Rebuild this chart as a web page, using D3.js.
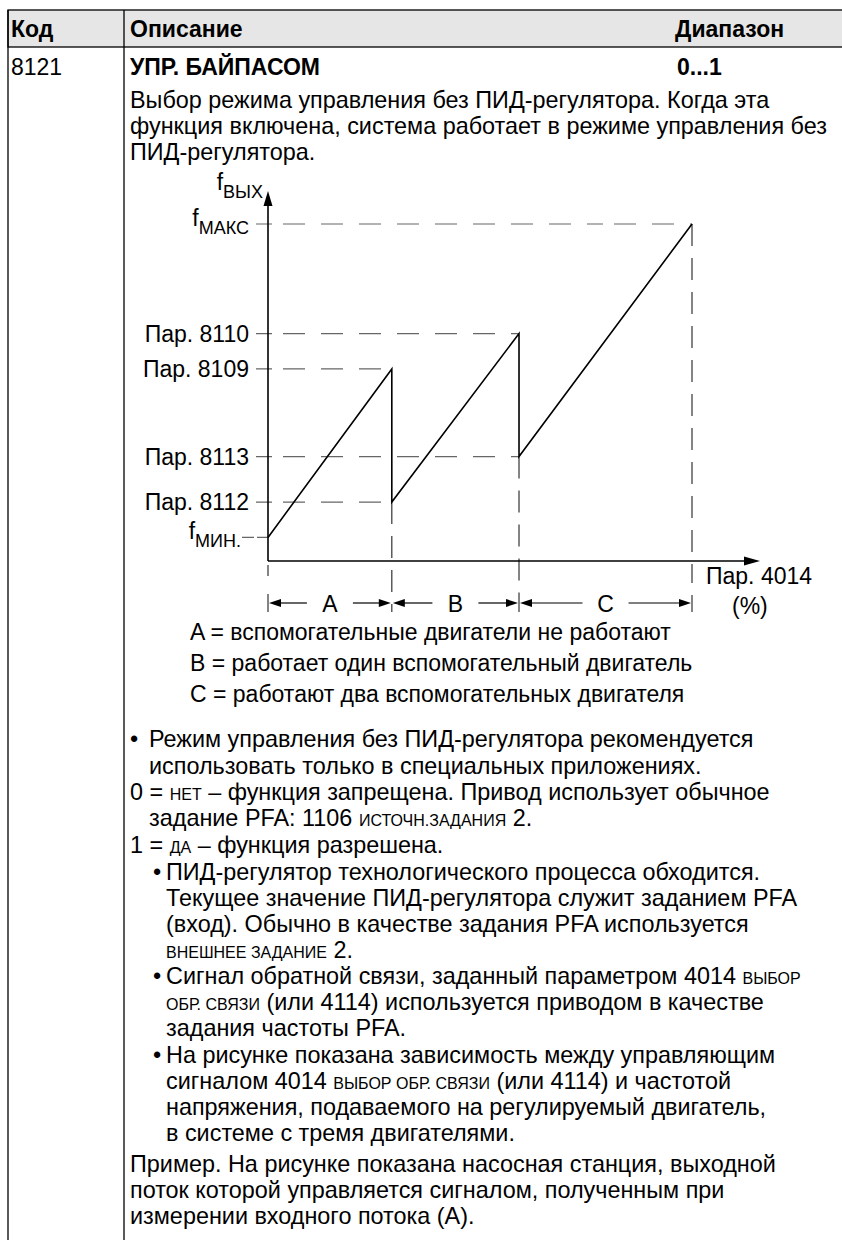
<!DOCTYPE html>
<html>
<head>
<meta charset="utf-8">
<script src="https://cdn.jsdelivr.net/npm/d3@7"></script>
<style>
  body { margin: 0; background: #fff; }
  svg text { font-family: "Liberation Sans", Arial, sans-serif; fill: #000; }
</style>
</head>
<body>
<div id="chart"></div>
<script>
//Datos del gráfico (valores en % de fMAX y % de Пар. 4014)
const levelNames = ['fМИН.', 'Пар. 8112', 'Пар. 8113', 'Пар. 8109', 'Пар. 8110', 'fМАКС'];
const levelValues = [7, 17.5, 31, 57, 67.5, 100];
const stageNames = ['A', 'B', 'C'];
const stageBounds = [0, 29.2, 59.2, 100];
const curveX = [0, 29.2, 29.2, 59.2, 59.2, 100];
const curveY = [7, 57, 17.5, 67.5, 31, 100];
const legendLines = [
    'A = вспомогательные двигатели не работают',
    'B = работает один вспомогательный двигатель',
    'C = работают два вспомогательных двигателя'
];

//Textos de la tabla
const headCols = ['Код', 'Описание', 'Диапазон'];
const introLines = [
    'Выбор режима управления без ПИД-регулятора. Когда эта',
    'функция включена, система работает в режиме управления без',
    'ПИД-регулятора.'
];
// [indent, texto] ; los tramos entre | van en versalitas
const bodyLines = [
    [130, '•'], [149, 'Режим управления без ПИД-регулятора рекомендуется'],
    [149, 'использовать только в специальных приложениях.'],
    [130, '0 = |НЕТ| – функция запрещена. Привод использует обычное'],
    [149, 'задание PFA: 1106 |ИСТОЧН.ЗАДАНИЯ| 2.'],
    [130, '1 = |ДА| – функция разрешена.'],
    [153, '•'], [166, 'ПИД-регулятор технологического процесса обходится.'],
    [166, 'Текущее значение ПИД-регулятора служит заданием PFA'],
    [166, '(вход). Обычно в качестве задания PFA используется'],
    [166, '|ВНЕШНЕЕ ЗАДАНИЕ| 2.'],
    [153, '•'], [166, 'Сигнал обратной связи, заданный параметром 4014 |ВЫБОР|'],
    [166, '|ОБР. СВЯЗИ| (или 4114) используется приводом в качестве'],
    [166, 'задания частоты PFA.'],
    [153, '•'], [166, 'На рисунке показана зависимость между управляющим'],
    [166, 'сигналом 4014 |ВЫБОР ОБР. СВЯЗИ| (или 4114) и частотой'],
    [166, 'напряжения, подаваемого на регулируемый двигатель,'],
    [166, 'в системе с тремя двигателями.'],
    [130, 'Пример. На рисунке показана насосная станция, выходной'],
    [130, 'поток которой управляется сигналом, полученным при'],
    [130, 'измерении входного потока (A).']
];
const bodyBaselines = [747, 747, 774, 800, 826, 853, 880, 880, 906, 932, 958, 984, 984, 1010, 1036, 1063, 1063, 1089, 1115, 1141, 1172, 1198, 1224];

const W = 842, H = 1240;
const FS = 23.4, FS_SC = 16, FS_SUB = 18, FS_B = 23, FS_CH = 23;

let svg = d3.select('#chart').append('svg')
    .attr('width', W)
    .attr('height', H);

//////Tabla
svg.append('rect')
    .attr('x', 8).attr('y', 10)
    .attr('width', W - 8 + 2).attr('height', 37)
    .attr('fill', '#e6e6e6')
    .attr('stroke', '#000')
    .attr('stroke-width', 1.3);

svg.append('line').attr('x1', 8).attr('x2', 8).attr('y1', 10).attr('y2', H)
    .attr('stroke', '#000').attr('stroke-width', 1.3);
svg.append('line').attr('x1', 124).attr('x2', 124).attr('y1', 10).attr('y2', H)
    .attr('stroke', '#000').attr('stroke-width', 1.3);

let headX = [11, 130, 675];
svg.selectAll('.head')
    .data(headCols)
    .enter()
    .append('text')
    .attr('x', (d, i) => headX[i])
    .attr('y', 37)
    .attr('font-size', FS_B)
    .attr('font-weight', 'bold')
    .text(d => d);

svg.append('text').attr('x', 11).attr('y', 75).attr('font-size', FS_CH).text('8121');
svg.append('text').attr('x', 130).attr('y', 75).attr('font-size', FS_B).attr('font-weight', 'bold').text('УПР. БАЙПАСОМ');
svg.append('text').attr('x', 677).attr('y', 75).attr('font-size', FS_B).attr('font-weight', 'bold').text('0...1');

svg.selectAll('.intro')
    .data(introLines)
    .enter()
    .append('text')
    .attr('x', 130)
    .attr('y', (d, i) => 108 + i * 26)
    .attr('font-size', FS)
    .text(d => d);

//Texto con versalitas
bodyLines.forEach(function(l, i) {
    let t = svg.append('text')
        .attr('x', l[0])
        .attr('y', bodyBaselines[i])
        .attr('font-size', FS)
        .attr('xml:space', 'preserve');
    l[1].split('|').forEach(function(s, j) {
        if (s === '') return;
        t.append('tspan')
            .attr('font-size', j % 2 ? FS_SC : FS)
            .text(s);
    });
});

//////Gráfico
let x = d3.scaleLinear().domain([0, 100]).range([268, 692]);
let y = d3.scaleLinear().domain([0, 100]).range([561, 224]);

let g = svg.append('g');
const DASH_COLOR = '#666';

//Líneas discontinuas horizontales
levelValues.forEach(function(v, i) {
    if (i === 0) {
        g.append('line')
            .attr('x1', x(0) - 26).attr('x2', x(0))
            .attr('y1', y(v)).attr('y2', y(v))
            .attr('stroke', DASH_COLOR)
            .attr('stroke-width', 1.2)
            .attr('stroke-dasharray', '12,3,12');
        return;
    }
    let xEnd = d3.max(curveX.filter((cx, k) => curveY[k] === v));
    g.append('line')
        .attr('x1', x(0) - 12).attr('x2', x(xEnd))
        .attr('y1', y(v)).attr('y2', y(v))
        .attr('stroke', DASH_COLOR)
        .attr('stroke-width', 1.2)
        .attr('stroke-dasharray', '16,11,22,16,22,16,22,16,22,16,22,16,22,16,22,16,22,16');
});

//Líneas discontinuas verticales
stageBounds.forEach(function(b, i) {
    let top;
    if (i === 0) top = y(0) + 4;
    else if (i === stageBounds.length - 1) top = y(100);
    else top = y(d3.min(curveY.filter((cy, k) => curveX[k] === b)));
    let bottom = i === stageBounds.length - 1 ? 583 : 612;
    g.append('line')
        .attr('x1', x(b)).attr('x2', x(b))
        .attr('y1', top).attr('y2', bottom)
        .attr('stroke', '#333')
        .attr('stroke-width', 1.2)
        .attr('stroke-dasharray', i === 0 ? '11,18,20' : '22,12');
});

//Ejes
g.append('line')
    .attr('x1', x(0)).attr('x2', x(0))
    .attr('y1', y(0)).attr('y2', 200)
    .attr('stroke', '#000').attr('stroke-width', 1.6);
g.append('path')
    .attr('d', d3.line()([[x(0) - 4.5, 206], [x(0), 191], [x(0) + 4.5, 206]]) + 'Z')
    .attr('fill', '#000');
g.append('line')
    .attr('x1', x(0)).attr('x2', 748)
    .attr('y1', y(0)).attr('y2', y(0))
    .attr('stroke', '#000').attr('stroke-width', 1.6);
g.append('path')
    .attr('d', d3.line()([[744, y(0) - 4.5], [760, y(0)], [744, y(0) + 4.5]]) + 'Z')
    .attr('fill', '#000');

//Curva
g.append('path')
    .datum(curveX.map((cx, k) => [cx, curveY[k]]))
    .attr('fill', 'none')
    .attr('stroke', '#000')
    .attr('stroke-width', 1.6)
    .attr('stroke-linejoin', 'miter')
    .attr('d', d3.line().x(d => x(d[0])).y(d => y(d[1])));

//Etiquetas del eje Y
levelNames.forEach(function(n, i) {
    let t = g.append('text')
        .attr('x', i === 0 ? x(0) - 27 : x(0) - 19)
        .attr('y', y(levelValues[i]) + 8)
        .attr('font-size', FS_CH)
        .attr('text-anchor', 'end');
    if (n[0] === 'f') {
        t.attr('y', y(levelValues[i]) + 2);
        t.append('tspan').text('f');
        t.append('tspan').attr('font-size', FS_SUB).attr('dy', 8).text(n.slice(1));
    } else {
        t.text(n);
    }
});

//Título eje Y
let ty = g.append('text').attr('x', x(0) - 5).attr('y', 190).attr('font-size', FS_CH).attr('text-anchor', 'end');
ty.append('tspan').text('f');
ty.append('tspan').attr('font-size', FS_SUB).attr('dy', 8).text('ВЫХ');

//Título eje X
g.append('text').attr('x', 706).attr('y', 584).attr('font-size', FS_CH).text('Пар. 4014');
g.append('text').attr('x', 732).attr('y', 614).attr('font-size', FS_CH).text('(%)');

//Flechas de tramos
const arrowY = 603;
stageNames.forEach(function(s, i) {
    let x0 = x(stageBounds[i]), x1 = x(stageBounds[i + 1]);
    let cx = (x0 + x1) / 2;
    let half = 23;
    g.append('text')
        .attr('x', cx).attr('y', arrowY + 9)
        .attr('font-size', FS_CH)
        .attr('text-anchor', 'middle')
        .text(s);
    g.append('line').attr('x1', x0 + 10).attr('x2', cx - half).attr('y1', arrowY).attr('y2', arrowY)
        .attr('stroke', '#000').attr('stroke-width', 1.2);
    g.append('line').attr('x1', cx + half).attr('x2', x1 - 10).attr('y1', arrowY).attr('y2', arrowY)
        .attr('stroke', '#000').attr('stroke-width', 1.2);
    g.append('path')
        .attr('d', d3.line()([[x0 + 1, arrowY], [x0 + 13, arrowY - 4], [x0 + 13, arrowY + 4]]) + 'Z')
        .attr('fill', '#000');
    g.append('path')
        .attr('d', d3.line()([[x1 - 1, arrowY], [x1 - 13, arrowY - 4], [x1 - 13, arrowY + 4]]) + 'Z')
        .attr('fill', '#000');
});
g.append('line').attr('x1', x(100)).attr('x2', x(100)).attr('y1', 595).attr('y2', 612)
    .attr('stroke', '#333').attr('stroke-width', 1.2);

//Leyenda
g.selectAll('.legend')
    .data(legendLines)
    .enter()
    .append('text')
    .attr('x', 190)
    .attr('y', (d, i) => 640 + i * 31)
    .attr('font-size', FS_CH)
    .text(d => d);
</script>
</body>
</html>
